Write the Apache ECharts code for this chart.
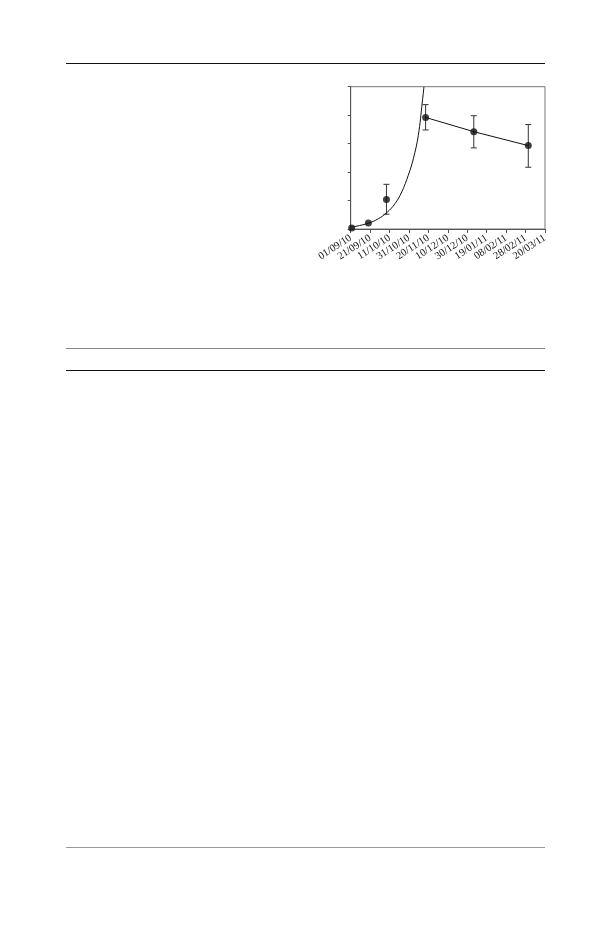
<!DOCTYPE html>
<html>
<head>
<meta charset="utf-8">
<script src="https://cdn.jsdelivr.net/npm/echarts@6/dist/echarts.min.js"></script>
<style>
html,body{margin:0;padding:0;background:#fff;}
#wrap{position:relative;width:610px;height:925px;}
#chart{position:absolute;left:0;top:0;width:610px;height:925px;}
.rule{position:absolute;left:66px;width:479px;}
</style>
</head>
<body>
<div id="wrap">
<div id="chart"></div>
<div class="rule" style="top:62.5px;height:1.3px;background:#111;"></div>
<div class="rule" style="top:347.5px;height:1.2px;background:#888;"></div>
<div class="rule" style="top:370px;height:1.3px;background:#111;"></div>
<div class="rule" style="top:846.5px;height:1.2px;background:#999;"></div>
</div>
<script>
// x positions in days since 01/09/10
var xTickLabels = ['01/09/10','21/09/10','11/10/10','31/10/10','20/11/10','10/12/10','30/12/10','19/01/11','08/02/11','28/02/11','20/03/11'];
var pointDays = [1, 18.2, 36.8, 77.1, 126.7, 182.8];
var pointValues = [0.035, 0.21, 1.04, 3.92, 3.42, 2.93];
var errLow  = [null, null, 0.52, 3.48, 2.85, 2.17];
var errHigh = [null, null, 1.57, 4.37, 3.98, 3.67];
// connected segment (last three points)
var lineDays = [77.1, 126.7, 182.8];
var lineValues = [3.92, 3.42, 2.93];
// fitted curve
var curveDays = [0, 18.1, 28.4, 37.0, 45.6, 52.5, 59.3, 64.5, 69.6, 73.7, 75.4];
var curveValues = [0.06, 0.2, 0.36, 0.57, 0.89, 1.30, 1.89, 2.47, 3.29, 4.46, 5.0];

var chart = echarts.init(document.getElementById('chart'), null, {renderer:'canvas'});
var axisColor = '#555';
var option = {
  animation:false,
  grid:{left:350.7, right:65, top:86.7, bottom:696, show:true, borderColor:'#777', borderWidth:1, containLabel:false},
  xAxis:[
    {
      type:'category', data:xTickLabels, boundaryGap:false, position:'bottom',
      axisLine:{show:true, lineStyle:{color:axisColor, width:1}},
      axisTick:{show:true, length:4, inside:false, interval:0, alignWithLabel:true, lineStyle:{color:axisColor}},
      splitLine:{show:false},
      axisLabel:{
        interval:0, rotate:33, margin:8, fontFamily:'Liberation Serif', fontSize:10.5, color:'#111',
        hideOverlap:false
      }
    },
    {
      type:'value', min:0, max:200, interval:20, show:false, position:'bottom'
    }
  ],
  yAxis:{
    type:'value', min:0, max:5, interval:1,
    axisLine:{show:true, lineStyle:{color:axisColor, width:1}},
    axisTick:{show:true, length:3, inside:false, lineStyle:{color:axisColor}},
    splitLine:{show:false},
    axisLabel:{show:false}
  },
  series:[
    {
      type:'line', xAxisIndex:1, data:curveDays.map(function(d,i){return [d,curveValues[i]];}),
      smooth:0.4, showSymbol:false, symbol:'none', clip:true,
      lineStyle:{color:'#111', width:1}
    },
    {
      type:'line', xAxisIndex:1, data:lineDays.map(function(d,i){return [d,lineValues[i]];}),
      showSymbol:false, symbol:'none',
      lineStyle:{color:'#111', width:1}
    },
    {
      type:'custom', xAxisIndex:1,
      data:pointDays.map(function(d,i){return [d, errLow[i], errHigh[i]];}).filter(function(r){return r[1]!=null;}),
      renderItem:function(params, api){
        var lo = api.coord([api.value(0), api.value(1)]);
        var hi = api.coord([api.value(0), api.value(2)]);
        var hw = 3;
        var st = {stroke:'#333', lineWidth:1};
        return {type:'group', children:[
          {type:'line', shape:{x1:lo[0],y1:lo[1],x2:hi[0],y2:hi[1]}, style:st},
          {type:'line', shape:{x1:lo[0]-hw,y1:lo[1],x2:lo[0]+hw,y2:lo[1]}, style:st},
          {type:'line', shape:{x1:hi[0]-hw,y1:hi[1],x2:hi[0]+hw,y2:hi[1]}, style:st}
        ]};
      },
      z:3
    },
    {
      type:'scatter', xAxisIndex:1, data:pointDays.map(function(d,i){return [d,pointValues[i]];}),
      symbol:'circle', symbolSize:7, itemStyle:{color:'#111'}, z:5, clip:false
    }
  ]
};
chart.setOption(option);
</script>
</body>
</html>
